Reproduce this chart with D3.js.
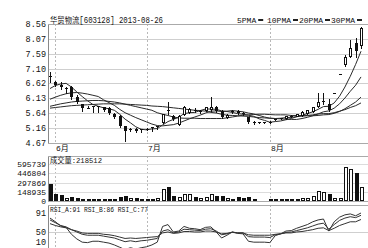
<!DOCTYPE html>
<html>
<head>
<meta charset="utf-8">
<script src="https://cdn.jsdelivr.net/npm/d3@7"></script>
<style>
  body { margin: 0; background: #fff; }
  svg text { font-family: "Liberation Mono", "Noto Sans CJK SC", monospace; fill: #111; }
</style>
</head>
<body>
<div id="chart"></div>
<script>
// daily OHLC, 2013-05-31 .. 2013-08-26
var opens  = [6.86, 6.65, 6.58, 6.46, 6.49, 6.19, 5.94, 5.81, 5.87, 5.86,
              5.84, 5.81, 5.61, 5.55, 5.22, 5.11, 5.13, 5.12, 5.12, 5.18,
              5.21, 5.35, 5.74, 5.55, 5.30, 5.61, 5.68, 5.76, 5.70, 5.74,
              5.78, 5.84, 5.71, 5.52, 5.70, 5.71, 5.65, 5.51, 5.34, 5.34,
              5.35, 5.37, 5.43, 5.46, 5.48, 5.55, 5.56, 5.58, 5.65, 5.71,
              5.87, 6.02, 5.94, 6.31, 6.94, 7.26, 7.52, 7.94, 7.88];
var highs  = [7.00, 6.70, 6.65, 6.50, 6.52, 6.23, 5.96, 5.87, 5.88, 5.88,
              5.86, 5.84, 5.64, 5.58, 5.24, 5.16, 5.16, 5.13, 5.16, 5.20,
              5.23, 5.63, 6.00, 5.58, 5.57, 5.87, 5.80, 5.81, 5.76, 5.86,
              6.16, 5.87, 5.74, 5.61, 5.74, 5.74, 5.68, 5.53, 5.38, 5.37,
              5.36, 5.38, 5.46, 5.50, 5.56, 5.58, 5.63, 5.70, 5.76, 5.86,
              6.32, 6.32, 6.10, 6.31, 6.94, 7.55, 8.04, 8.11, 8.46];
var lows   = [6.65, 6.52, 6.45, 6.32, 6.12, 5.97, 5.71, 5.80, 5.68, 5.68,
              5.72, 5.62, 5.50, 5.20, 4.74, 5.07, 5.02, 5.03, 5.08, 5.06,
              5.14, 5.32, 5.62, 5.42, 5.27, 5.58, 5.64, 5.68, 5.66, 5.72,
              5.72, 5.68, 5.48, 5.48, 5.64, 5.61, 5.58, 5.32, 5.30, 5.31,
              5.34, 5.31, 5.42, 5.44, 5.46, 5.52, 5.54, 5.56, 5.62, 5.69,
              5.84, 5.94, 5.72, 6.31, 6.94, 7.20, 7.49, 7.49, 7.78];
var closes = [6.82, 6.56, 6.49, 6.48, 6.16, 6.00, 5.81, 5.82, 5.86, 5.87,
              5.76, 5.66, 5.53, 5.24, 5.06, 5.14, 5.05, 5.12, 5.14, 5.19,
              5.22, 5.61, 5.70, 5.46, 5.55, 5.84, 5.77, 5.74, 5.72, 5.84,
              5.84, 5.71, 5.51, 5.58, 5.71, 5.64, 5.63, 5.35, 5.35, 5.35,
              5.35, 5.33, 5.45, 5.48, 5.55, 5.56, 5.61, 5.68, 5.74, 5.84,
              6.00, 6.03, 5.74, 6.31, 6.94, 7.49, 7.78, 7.69, 8.43];
var volumes = [268000, 110000, 90000, 55000, 70000, 55000, 35000, 35000, 40000, 30000,
               30000, 35000, 40000, 60000, 75000, 45000, 50000, 35000, 35000, 40000,
               50000, 200000, 230000, 85000, 70000, 120000, 110000, 70000, 50000, 70000,
               120000, 80000, 80000, 45000, 40000, 60000, 50000, 70000, 35000, 20000,
               20000, 30000, 40000, 35000, 40000, 35000, 40000, 50000, 55000, 85000,
               155000, 145000, 110000, 45000, 45000, 540000, 515000, 450000, 218512];

var ma5  = [6.45, 6.55, 6.60, 6.62, 6.50, 6.34, 6.19, 6.05, 5.93, 5.87,
            5.82, 5.79, 5.74, 5.61, 5.45, 5.33, 5.20, 5.12, 5.10, 5.13,
            5.14, 5.26, 5.37, 5.44, 5.51, 5.63, 5.66, 5.67, 5.73, 5.78,
            5.78, 5.77, 5.72, 5.70, 5.67, 5.63, 5.61, 5.58, 5.54, 5.46,
            5.41, 5.35, 5.37, 5.39, 5.43, 5.47, 5.53, 5.58, 5.63, 5.69,
            5.77, 5.86, 5.87, 5.98, 6.20, 6.50, 6.85, 7.24, 7.67];
var ma10 = [6.10, 6.17, 6.23, 6.28, 6.31, 6.32, 6.30, 6.27, 6.23, 6.19,
            6.08, 5.99, 5.90, 5.77, 5.66, 5.58, 5.50, 5.43, 5.36, 5.29,
            5.24, 5.23, 5.25, 5.27, 5.32, 5.39, 5.46, 5.52, 5.58, 5.65,
            5.71, 5.72, 5.70, 5.71, 5.73, 5.71, 5.69, 5.65, 5.62, 5.57,
            5.52, 5.48, 5.47, 5.46, 5.45, 5.44, 5.44, 5.47, 5.51, 5.56,
            5.62, 5.69, 5.72, 5.81, 5.95, 6.14, 6.36, 6.56, 6.83];
var ma20 = [5.87, 5.91, 5.95, 5.98, 6.01, 6.03, 6.04, 6.05, 6.06, 6.06,
            6.05, 6.03, 6.01, 5.98, 5.94, 5.90, 5.86, 5.82, 5.78, 5.74,
            5.66, 5.61, 5.57, 5.52, 5.49, 5.48, 5.48, 5.48, 5.47, 5.47,
            5.47, 5.47, 5.47, 5.49, 5.52, 5.55, 5.58, 5.59, 5.60, 5.61,
            5.61, 5.60, 5.59, 5.59, 5.59, 5.57, 5.57, 5.56, 5.56, 5.56,
            5.57, 5.59, 5.60, 5.64, 5.70, 5.79, 5.90, 6.01, 6.17];
var ma30 = [5.81, 5.83, 5.85, 5.87, 5.89, 5.90, 5.91, 5.92, 5.93, 5.94,
            5.95, 5.95, 5.95, 5.95, 5.94, 5.93, 5.92, 5.91, 5.90, 5.88,
            5.87, 5.86, 5.84, 5.82, 5.80, 5.78, 5.76, 5.74, 5.73, 5.71,
            5.67, 5.65, 5.61, 5.58, 5.57, 5.56, 5.55, 5.54, 5.52, 5.50,
            5.49, 5.48, 5.47, 5.48, 5.50, 5.51, 5.53, 5.55, 5.57, 5.59,
            5.62, 5.63, 5.63, 5.66, 5.71, 5.76, 5.83, 5.89, 5.98];

var rsiA = [80, 72, 63, 60, 45, 35, 28, 27, 30, 30,
            28, 26, 22, 17, 12, 16, 13, 16, 18, 22,
            28, 62, 66, 50, 52, 62, 58, 57, 55, 60,
            61, 50, 37, 43, 50, 47, 46, 30, 28, 28,
            28, 27, 42, 46, 52, 53, 58, 62, 66, 72,
            76, 78, 52, 72, 82, 87, 89, 85, 91];
var rsiB = [76, 70, 64, 61, 55, 50, 45, 43, 43, 43,
            41, 39, 37, 33, 29, 31, 29, 31, 32, 34,
            36, 52, 55, 48, 50, 56, 55, 54, 53, 56,
            57, 52, 44, 46, 50, 48, 48, 40, 39, 39,
            39, 38, 44, 46, 49, 50, 53, 56, 59, 63,
            67, 69, 56, 66, 75, 80, 83, 81, 86];
var rsiC = [68, 64, 61, 59, 55, 52, 48, 47, 47, 47,
            45, 44, 42, 39, 36, 37, 36, 37, 38, 39,
            40, 48, 50, 47, 48, 51, 51, 50, 50, 52,
            52, 50, 46, 47, 49, 48, 48, 44, 43, 43,
            43, 43, 45, 46, 48, 48, 50, 51, 53, 55,
            58, 59, 53, 58, 64, 68, 72, 72, 77];

var priceTicks = [8.56, 8.07, 7.59, 7.10, 6.62, 6.13, 5.64, 5.16, 4.67];
var volTicks = [595739, 446804, 297869, 148935, 0];
var rsiTicks = [91, 50, 10];
var monthIndex = [1, 18, 41];
var monthLabels = ["6月", "7月", "8月"];
var maNames = ["5PMA", "10PMA", "20PMA", "30PMA"];

var width = 368, height = 248;
var left = 48, right = 368;

var svg = d3.select("#chart").append("svg")
  .attr("width", width)
  .attr("height", height)
  .style("display", "block");

svg.append("rect").attr("width", width).attr("height", height).attr("fill", "#fff");

var idx = d3.range(closes.length);
var x = d3.scaleLinear().domain([0, closes.length - 1]).range([50, 361]);
var yP = d3.scaleLinear().domain([4.67, 8.56]).range([143, 24]);
var yV = d3.scaleLinear().domain([0, 595739]).range([201, 164]);
var yR = d3.scaleLinear().domain([10, 91]).range([250.5, 213]);

function px(i) { return Math.round(x(i)); }
function crisp(v) { return Math.round(v) + 0.5; }

// panels: [top, bottom]
var panels = [[24, 143], [156, 201], [205, 248]];

// month dashed lines
panels.forEach(function (p) {
  svg.append("g").selectAll("line")
    .data(monthIndex)
    .enter().append("line")
    .attr("x1", function (d) { return px(d) + 0.5; })
    .attr("x2", function (d) { return px(d) + 0.5; })
    .attr("y1", p[0]).attr("y2", p[1])
    .attr("stroke", "#b8b8b8")
    .attr("stroke-dasharray", "2,2");
});

// horizontal grids
svg.append("g").selectAll("line")
  .data(priceTicks)
  .enter().append("line")
  .attr("x1", left).attr("x2", right)
  .attr("y1", function (d) { return crisp(yP(d)); })
  .attr("y2", function (d) { return crisp(yP(d)); })
  .attr("stroke", "#cfcfcf");

svg.append("g").selectAll("line")
  .data(volTicks.slice(0, 4))
  .enter().append("line")
  .attr("x1", left).attr("x2", right)
  .attr("y1", function (d) { return crisp(yV(d)); })
  .attr("y2", function (d) { return crisp(yV(d)); })
  .attr("stroke", "#dcdcdc");

svg.append("line")
  .attr("x1", left).attr("x2", right)
  .attr("y1", crisp(yR(50))).attr("y2", crisp(yR(50)))
  .attr("stroke", "#cfcfcf");

// panel frames
panels.forEach(function (p) {
  svg.append("line").attr("x1", left + 0.5).attr("x2", left + 0.5)
    .attr("y1", p[0]).attr("y2", p[1] + 1).attr("stroke", "#888");
  svg.append("line").attr("x1", left).attr("x2", right)
    .attr("y1", p[0] + 0.5).attr("y2", p[0] + 0.5).attr("stroke", "#aaa");
});
svg.append("line").attr("x1", left).attr("x2", right)
  .attr("y1", 143.5).attr("y2", 143.5).attr("stroke", "#aaa");
svg.append("line").attr("x1", left).attr("x2", right)
  .attr("y1", 201.5).attr("y2", 201.5).attr("stroke", "#aaa");

// axis labels
svg.append("g").selectAll("text")
  .data(priceTicks)
  .enter().append("text")
  .attr("x", 46).attr("y", function (d) { return yP(d) + 3; })
  .attr("text-anchor", "end")
  .style("font-size", "8.5px")
  .text(function (d) { return d.toFixed(2); });

svg.append("g").selectAll("text")
  .data(volTicks)
  .enter().append("text")
  .attr("x", 46).attr("y", function (d) { return yV(d) + 3; })
  .attr("text-anchor", "end")
  .style("font-size", "8px")
  .text(function (d) { return d; });

svg.append("g").selectAll("text")
  .data(rsiTicks)
  .enter().append("text")
  .attr("x", 46).attr("y", function (d) { return Math.min(yR(d) + 3, 245); })
  .attr("text-anchor", "end")
  .style("font-size", "8.5px")
  .text(function (d) { return d; });

svg.append("g").selectAll("text")
  .data(monthIndex)
  .enter().append("text")
  .attr("x", function (d) { return px(d) + 1; })
  .attr("y", 151)
  .style("font-size", "8px")
  .text(function (d, i) { return monthLabels[i]; });

// title and legend
svg.append("text").attr("x", 50).attr("y", 23)
  .attr("textLength", 113).attr("lengthAdjust", "spacingAndGlyphs")
  .style("font-size", "8.5px")
  .text("华贸物流[603128] 2013-08-26");

var legendX = [237, 267, 299, 331];
var lg = svg.append("g").selectAll("g")
  .data(maNames)
  .enter().append("g")
  .attr("transform", function (d, i) { return "translate(" + legendX[i] + ",0)"; });
lg.append("text").attr("y", 23)
  .style("font-size", "8px")
  .text(function (d) { return d; });
lg.append("rect")
  .attr("x", function (d) { return d.length * 4.8 + 2; })
  .attr("y", 19).attr("width", 5).attr("height", 2)
  .attr("fill", "#222");

svg.append("text").attr("x", 50).attr("y", 163)
  .attr("textLength", 52).attr("lengthAdjust", "spacingAndGlyphs")
  .style("font-size", "8px")
  .text("成交量:" + volumes[volumes.length - 1]);

svg.append("text").attr("x", 50).attr("y", 212)
  .attr("textLength", 98).attr("lengthAdjust", "spacingAndGlyphs")
  .style("font-size", "8px")
  .text("RSI_A:" + rsiA[rsiA.length - 1] + " RSI_B:" + rsiB[rsiB.length - 1] + " RSI_C:" + rsiC[rsiC.length - 1]);

// moving averages
var line = function (arr, ys) {
  return d3.line().x(function (i) { return x(i); }).y(function (i) { return ys(arr[i]); })(idx);
};
[ma30, ma20, ma10, ma5].forEach(function (arr) {
  svg.append("path").attr("d", line(arr, yP))
    .attr("fill", "none").attr("stroke", "#2a2a2a").attr("stroke-width", 1);
});

// candles
var candle = svg.append("g").selectAll("g")
  .data(idx)
  .enter().append("g");

candle.append("line")
  .attr("x1", function (i) { return px(i) + 0.5; })
  .attr("x2", function (i) { return px(i) + 0.5; })
  .attr("y1", function (i) { return Math.round(yP(highs[i])); })
  .attr("y2", function (i) { return Math.round(yP(lows[i])) + 1; })
  .attr("stroke", "#111");

candle.append("rect")
  .each(function (i) {
    var up = closes[i] >= opens[i];
    var top = Math.round(yP(Math.max(opens[i], closes[i])));
    var bot = Math.round(yP(Math.min(opens[i], closes[i])));
    var r = d3.select(this);
    if (up && bot - top >= 2) {
      r.attr("x", px(i) - 0.5).attr("y", top + 0.5)
        .attr("width", 2).attr("height", bot - top)
        .attr("fill", "#fff").attr("stroke", "#111");
    } else {
      r.attr("x", px(i) - 1).attr("y", top)
        .attr("width", 3).attr("height", Math.max(1, bot - top))
        .attr("fill", "#111");
    }
  });

// volume
svg.append("g").selectAll("rect")
  .data(idx)
  .enter().append("rect")
  .each(function (i) {
    var up = closes[i] >= opens[i];
    var top = Math.round(yV(volumes[i]));
    var r = d3.select(this);
    if (up) {
      r.attr("x", px(i) - 0.5).attr("y", top + 0.5)
        .attr("width", 3).attr("height", Math.max(0, 200 - top))
        .attr("fill", "#fff").attr("stroke", "#111");
    } else {
      r.attr("x", px(i) - 1).attr("y", top)
        .attr("width", 4).attr("height", 201 - top)
        .attr("fill", "#111");
    }
  });

// RSI
[rsiC, rsiB, rsiA].forEach(function (arr) {
  svg.append("path").attr("d", line(arr, yR))
    .attr("fill", "none").attr("stroke", "#333").attr("stroke-width", 1);
});
</script>
</body>
</html>
